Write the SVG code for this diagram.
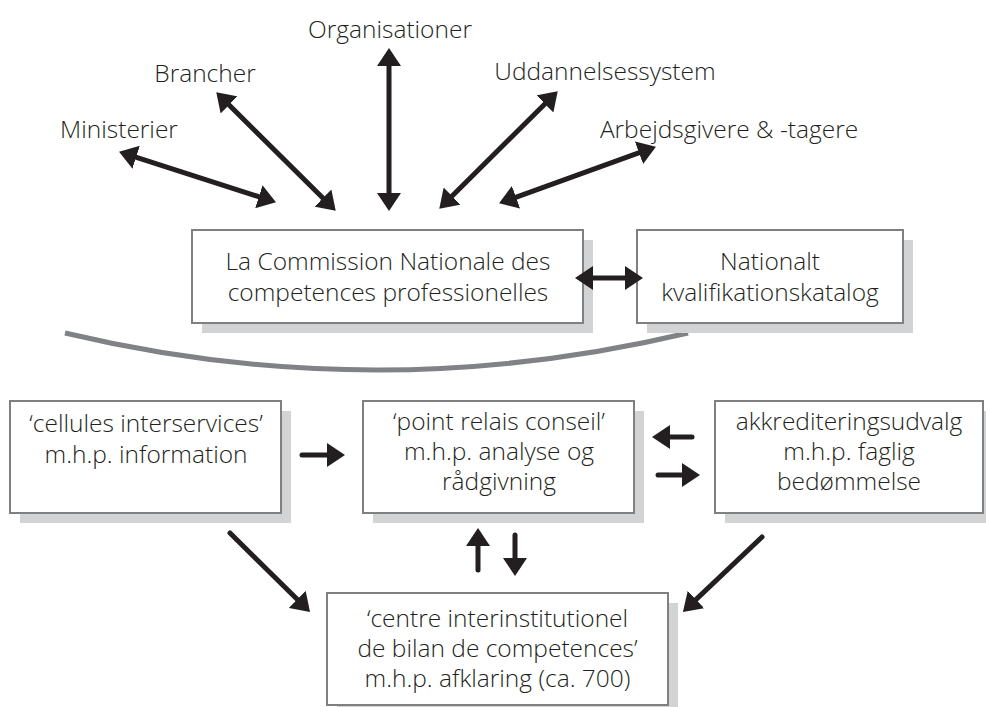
<svg xmlns="http://www.w3.org/2000/svg" width="986" height="707" viewBox="0 0 986 707">
<defs>
<style>
text{font-family:"Open Sans","Noto Sans","Liberation Sans",sans-serif;font-size:24.5px;font-weight:300;fill:#231f20;text-anchor:middle}
.sh{fill:#d1d3d4}
.bx{fill:#fff;stroke:#808080;stroke-width:2}
.ar{fill:none;stroke:#231f20;stroke-width:5;stroke-linecap:round;marker-end:url(#ah)}
.dbl{marker-start:url(#ah)}
</style>
<marker id="ah" markerWidth="18" markerHeight="24" refX="7" refY="12" orient="auto-start-reverse" markerUnits="userSpaceOnUse">
<path d="M0,0 L18,12 L0,24 z" fill="#231f20"/>
</marker>
</defs>
<rect width="986" height="707" fill="#fff"/>
<g id="labels">
<text x="390" y="38">Organisationer</text>
<text x="205" y="82">Brancher</text>
<text x="605" y="80">Uddannelsessystem</text>
<text x="119" y="138">Ministerier</text>
<text x="729" y="138">Arbejdsgivere &amp; -tagere</text>
</g>
<g id="arc">
<path d="M65,333 Q376,407 688,333" fill="none" stroke="#808285" stroke-width="5"/>
</g>
<g id="commission">
<rect class="sh" x="202" y="240" width="391" height="93"/>
<rect class="bx" x="192" y="230" width="391" height="93"/>
<text x="388" y="270">La Commission Nationale des</text>
<text x="388" y="301">competences professionelles</text>
</g>
<g id="katalog">
<rect class="sh" x="647" y="240" width="266" height="93"/>
<rect class="bx" x="637" y="230" width="266" height="93"/>
<text x="770" y="270">Nationalt</text>
<text x="770" y="301">kvalifikationskatalog</text>
</g>
<g id="cellules">
<rect class="sh" x="20" y="411" width="271" height="112"/>
<rect class="bx" x="10" y="401" width="271" height="112"/>
<text x="146" y="432">‘cellules interservices’</text>
<text x="146" y="463">m.h.p. information</text>
</g>
<g id="relais">
<rect class="sh" x="373" y="411" width="271" height="112"/>
<rect class="bx" x="363" y="401" width="271" height="112"/>
<text x="499" y="430">‘point relais conseil’</text>
<text x="499" y="460">m.h.p. analyse og</text>
<text x="499" y="490">rådgivning</text>
</g>
<g id="akkreditering">
<rect class="sh" x="725" y="411" width="268" height="112"/>
<rect class="bx" x="715" y="401" width="268" height="112"/>
<text x="849" y="430">akkrediteringsudvalg</text>
<text x="849" y="460">m.h.p. faglig</text>
<text x="849" y="490">bedømmelse</text>
</g>
<g id="centre">
<rect class="sh" x="337" y="603" width="341" height="112"/>
<rect class="bx" x="327" y="593" width="341" height="112"/>
<text x="497.5" y="627">‘centre interinstitutionel</text>
<text x="497.5" y="657">de bilan de competences’</text>
<text x="497.5" y="687">m.h.p. afklaring (ca. 700)</text>
</g>
<g id="connectors">
<path class="ar dbl" d="M129.5,155.1 L265.5,198.9"/>
<path class="ar dbl" d="M224.1,100 L327.9,203"/>
<path class="ar dbl" d="M389,59 L389,200"/>
<path class="ar dbl" d="M549.9,99 L447.1,201"/>
<path class="ar dbl" d="M645.6,150.4 L509.4,199.6"/>
<path class="ar dbl" d="M586,278 L632,278"/>
<path class="ar" d="M302,455 L334,455"/>
<path class="ar" d="M692,437 L663,437"/>
<path class="ar" d="M658,475 L689,475"/>
<path class="ar" d="M478,570 L478,539"/>
<path class="ar" d="M515,535 L515,565"/>
<path class="ar" d="M230,533 L302.2,604.3"/>
<path class="ar" d="M762,537 L690.9,604.4"/>
</g>
</svg>
